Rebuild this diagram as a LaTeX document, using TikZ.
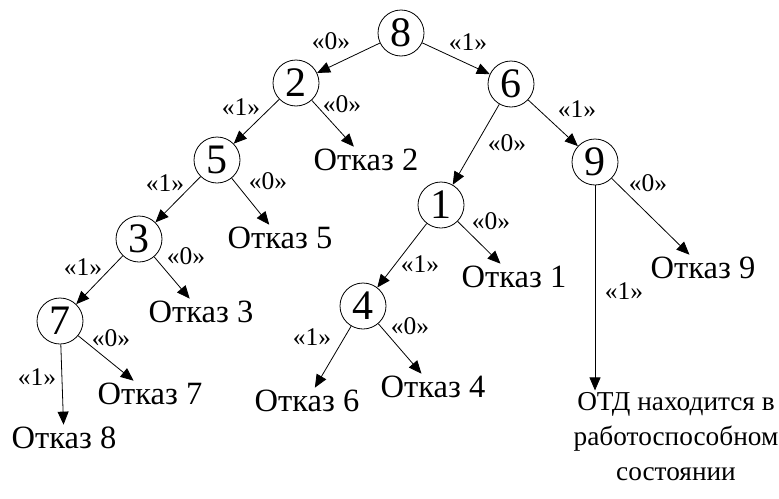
\documentclass[tikz,border=0pt]{standalone}
\usepackage{fontspec}
\setmainfont{Liberation Serif}
\usetikzlibrary{arrows.meta}

\begin{document}
\begin{tikzpicture}[x=1pt,y=-1pt,line width=0.8pt,
    vertex/.style={draw,circle,minimum size=46pt,inner sep=0pt,
      font=\fontsize{42}{42}\selectfont},
    fault/.style={inner sep=2pt,align=center,font=\fontsize{32.5}{35}\selectfont},
    bit/.style={inner sep=0pt,font=\fontsize{25.5}{25.5}\selectfont}]
  \useasboundingbox (0,0) rectangle (779,498);
  % check points of the tree
  \draw
    (401,33) node[vertex] (8){8}
    (296,83) node[vertex] (2){2}
    (511,84) node[vertex] (6){6}
    (217,160) node[vertex] (5){5}
    (595,162) node[vertex] (9){9}
    (441,205) node[vertex] (1){1}
    (139,239) node[vertex] (3){3}
    (363,306) node[vertex] (4){4}
    (60,321) node[vertex] (7){7};
  % outcomes
  \draw
    (366,160) node[fault] (f2){Отказ 2}
    (280,238) node[fault] (f5){Отказ 5}
    (514,277) node[fault] (f1){Отказ 1}
    (703,268) node[fault] (f9){Отказ 9}
    (201,312) node[fault] (f3){Отказ 3}
    (433,387) node[fault] (f4){Отказ 4}
    (307,401) node[fault] (f6){Отказ 6}
    (150,394) node[fault] (f7){Отказ 7}
    (64,438) node[fault] (f8){Отказ 8}
    (676,437) node[fault,font=\fontsize{27.3}{35}\selectfont] (ok)
      {ОТД находится в\\работоспособном\\состоянии};
  % test results
  \draw
    (331,41) node[bit] (b80){«0»}
    (468,42) node[bit] (b81){«1»}
    (241,107) node[bit] (b21){«1»}
    (342,104) node[bit] (b20){«0»}
    (577,109) node[bit] (b61){«1»}
    (507,143) node[bit] (b60){«0»}
    (165,183) node[bit] (b51){«1»}
    (268,181) node[bit] (b50){«0»}
    (624,291) node[bit] (b91){«1»}
    (648,183) node[bit] (b90){«0»}
    (420,264) node[bit] (b11){«1»}
    (491,221) node[bit] (b10){«0»}
    (83,267) node[bit] (b31){«1»}
    (186,256) node[bit] (b30){«0»}
    (312,337) node[bit] (b41){«1»}
    (410,326) node[bit] (b40){«0»}
    (37,377) node[bit] (b71){«1»}
    (111,338) node[bit] (b70){«0»};
  \begin{scope}[-{Triangle[length=13pt,width=11pt]}]
    \draw (8) to (2);
    \draw (8) to (6);
    \draw (2) to (5);
    \draw (2) to (f2);
    \draw (6) to (1);
    \draw (6) to (9);
    \draw (5) to (3);
    \draw (5) to (f5);
    \draw (9) to (f9);
    \draw (9) to (9 |- ok.north);
    \draw (1) to (4);
    \draw (1) to (f1);
    \draw (3) to (7);
    \draw (3) to (f3);
    \draw (4) to (f6);
    \draw (4) to (f4);
    \draw (7) to (f8);
    \draw (7) to (f7);
  \end{scope}
\end{tikzpicture}
\end{document}
